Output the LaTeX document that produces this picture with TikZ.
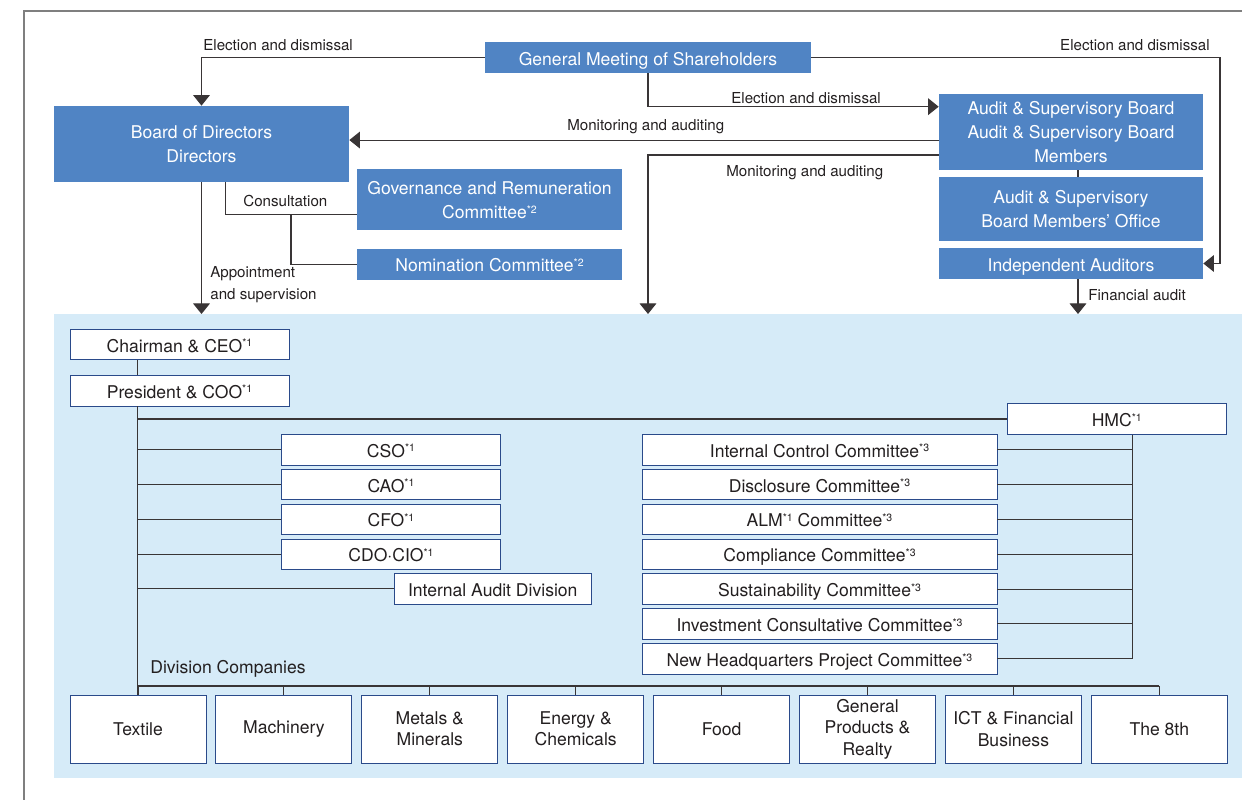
\documentclass[tikz,border=0pt]{standalone}
\usepackage{fontspec}
\setmainfont{TeX Gyre Heros}
\usepackage{tikz}
\usetikzlibrary{calc,arrows.meta}
\definecolor{boardblue}{HTML}{5084C4}
\definecolor{execblue}{HTML}{D6EBF8}
\definecolor{boxedge}{HTML}{2A4A8A}
\definecolor{ink}{HTML}{231F20}
\definecolor{framegray}{HTML}{7F7F7F}
\newcommand{\sfx}[1]{\raisebox{0.3em}{\fontsize{6}{7}\selectfont *#1}}

\begin{document}
\begin{tikzpicture}[x=0.02cm, y=-0.02cm,
  boxsize/.style 2 args={minimum width=#1*0.02cm, minimum height=#2*0.02cm},
  oneline/.style={text height=8.6pt, text depth=0pt},
  topbox/.style={fill=boardblue, text=white, inner sep=0pt, align=center, font=\fontsize{10}{13.6}\selectfont},
  unitbox/.style={fill=white, draw=boxedge, line width=0.5pt, text=ink, inner sep=0pt, align=center, font=\fontsize{10}{12.2}\selectfont},
  wire/.style={draw=ink!90, line width=0.6pt},
  feed/.style={wire, -{Triangle[width=9.5pt,length=6pt]}},
  remark/.style={text=ink, inner sep=0pt, font=\fontsize{8.6}{12.6}\selectfont}]
  \useasboundingbox (0,0) rectangle (1242,800);
  \draw[framegray, line width=0.85pt] (24,800) -- (24,11) -- (1242,11);
  \node[fill=execblue, inner sep=0pt, boxsize={1188}{464}, anchor=north west] (exec) at (54,314) {};

  % governance bodies
  \node[topbox, oneline, boxsize={326}{31}] (gm) at (648,57.5) {General Meeting of Shareholders};
  \node[topbox, boxsize={295}{76}] (board) at (201.5,144) {Board of Directors\\Directors};
  \node[topbox, boxsize={265}{61}] (grc) at (489.5,200) {Governance and Remuneration\\Committee\sfx{2}};
  \node[topbox, oneline, boxsize={265}{31}] (nom) at (489.5,264.3) {Nomination Committee\sfx{2}};
  \node[topbox, boxsize={264}{76}] (asb) at (1071,132) {Audit \& Supervisory Board\\Audit \& Supervisory Board\\Members};
  \node[topbox, boxsize={264}{63.5}] (office) at (1071,209) {Audit \& Supervisory\\Board Members’ Office};
  \node[topbox, oneline, boxsize={264}{31}] (ia) at (1071,263.5) {Independent Auditors};

  \coordinate (elecR) at (1220,57.5);
  \coordinate (mon1) at ($(asb.north west)!0.605!(asb.south west)$);
  \coordinate (mon2) at ($(asb.north west)!0.8!(asb.south west)$);
  \coordinate (ax) at ($(ia.south)+(7,0)$);
  \coordinate (cons) at ($(board.south west)!0.58!(board.south east)$);
  \coordinate (grcin) at ($(grc.north west)!0.74!(grc.south west)$);
  \coordinate (consj) at (291,215);

  \draw[feed] (gm.west) -| (board.north);
  \draw[feed] (gm.east) -- (elecR) |- (ia.east);
  \draw[feed] (gm.south) |- ($(asb.north west)!0.17!(asb.south west)$);
  \draw[feed] (mon1) -- (mon1 -| board.east);
  \draw[feed] (mon2) -| (exec.north -| gm.south);
  \draw[wire] (asb.south -| ax) -- (office.north -| ax);
  \draw[feed] (ax) -- (ax |- exec.north);
  \draw[feed] (board.south) -- (board.south |- exec.north);
  \draw[wire] (cons) |- (grcin);
  \draw[wire] (consj) |- (nom.west);

  \node[remark, anchor=base west] (lelecl) at (203,50.5) {Election and dismissal};
  \node[remark, anchor=base east] (lelecr) at (1210,50.5) {Election and dismissal};
  \node[remark, anchor=base west] (lelecm) at (731,103.5) {Election and dismissal};
  \node[remark, anchor=base west] (lmon1) at (567,131) {Monitoring and auditing};
  \node[remark, anchor=base west] (lmon2) at (726,176.5) {Monitoring and auditing};
  \node[remark, anchor=base west] (lcons) at (243,207) {Consultation};
  \node[remark, anchor=north west, align=left] (lappt) at (210,266) {Appointment\\and supervision};
  \node[remark, anchor=base west] (lfin) at (1088,301) {Financial audit};

  % executive side
  \node[unitbox, oneline, boxsize={219}{30.5}] (chair) at (179.5,344.5) {Chairman \& CEO\sfx{1}};
  \node[unitbox, oneline, boxsize={219}{31}] (pres) at (179.5,390.5) {President \& COO\sfx{1}};
  \node[unitbox, oneline, boxsize={218.5}{30.5}] (hmc) at (1116.75,419) {HMC\sfx{1}};
  \coordinate (trunk) at ($(pres.south west)!0.31!(pres.south east)$);
  \coordinate (hmcx) at ($(hmc.south west)!0.572!(hmc.south east)$);
  \coordinate (busy) at (0,686);
  \draw[wire] (chair.south -| trunk) -- (pres.north -| trunk);
  \draw[wire] (trunk |- hmc.west) -- (hmc.west);

  \foreach \name/\lab [count=\i from 0] in {cso/CSO\sfx{1}, cao/CAO\sfx{1}, cfo/CFO\sfx{1}, cdo/CDO·CIO\sfx{1}} {
    \node[unitbox, oneline, boxsize={219}{30.5}] (\name) at (391,449.7+34.85*\i) {\lab};
    \draw[wire] (trunk |- \name.west) -- (\name.west);
  }
  \node[unitbox, oneline, boxsize={197.5}{31}] (iad) at (492.75,588.5) {Internal Audit Division};
  \draw[wire] (trunk |- iad.west) -- (iad.west);

  \foreach \name/\lab [count=\i from 0] in {icc/Internal Control Committee\sfx{3}, dsc/Disclosure Committee\sfx{3}, alm/ALM\sfx{1} Committee\sfx{3}, cmp/Compliance Committee\sfx{3}, sus/Sustainability Committee\sfx{3}, inv/Investment Consultative Committee\sfx{3}, nhq/New Headquarters Project Committee\sfx{3}} {
    \node[unitbox, oneline, boxsize={355}{30.5}] (\name) at (819.5,449.7+34.85*\i) {\lab};
    \draw[wire] (\name.east) -- (hmcx |- \name.east);
  }
  \draw[wire] (hmcx) -- (hmcx |- nhq.east);

  % division companies
  \node[text=ink, inner sep=0pt, anchor=base west, font=\fontsize{10}{12}\selectfont] (ldiv) at (150,674) {Division Companies};
  \foreach \name/\lab [count=\i from 0] in {tex/Textile, mac/Machinery, met/{Metals \&\\Minerals}, ene/{Energy \&\\Chemicals}, food/Food, gen/{General\\Products \&\\Realty}, ict/{ICT \& Financial\\Business}, the8/The 8th} {
    \node[unitbox, boxsize={136}{68}] (\name) at (138+145.9*\i,729) {\lab};
    \draw[wire] (\name.north |- busy) -- (\name.north);
  }
  \draw[wire] (trunk) -- (trunk |- busy) -- (the8.north |- busy);
\end{tikzpicture}
\end{document}
